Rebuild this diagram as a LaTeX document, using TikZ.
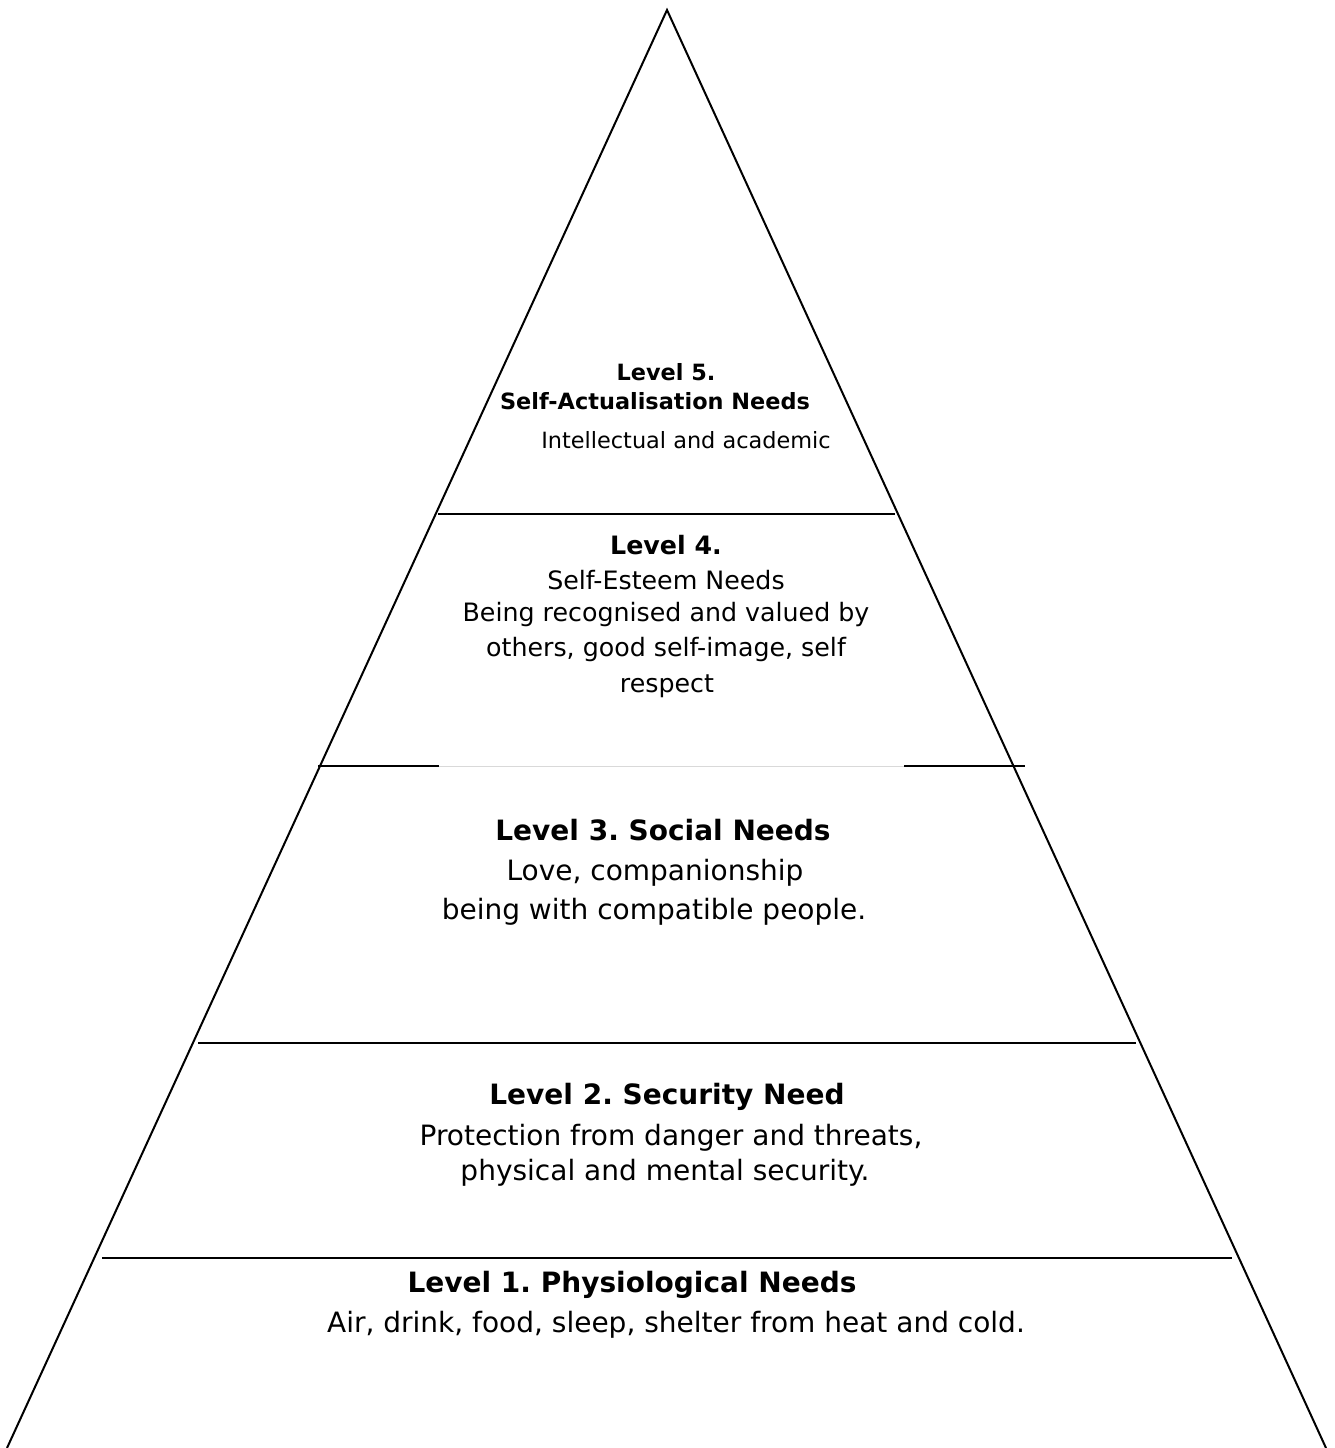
\documentclass[tikz,border=0pt]{standalone}
\usepackage{fontspec}
\setmainfont{DejaVu Sans}
\frenchspacing
\begin{document}
\begin{tikzpicture}[x=1pt,y=-1pt,
  edge/.style={line width=2pt,line join=miter},
  thinrule/.style={line width=1.2pt},
  midrule/.style={line width=2.4pt},
  faintrule/.style={line width=1pt,draw=black!15},
  lbl/.style={inner sep=0pt,anchor=center},
  fA/.style={font=\fontsize{22.4}{26}\selectfont},
  fB/.style={font=\fontsize{25.3}{30}\selectfont},
  fC/.style={font=\fontsize{28}{33}\selectfont}]
\useasboundingbox (0,0) rectangle (1334,1448);
\fill[white] (0,0) rectangle (1334,1448);
% triangle
\coordinate (apex) at (667,10);
\coordinate (bl) at (7,1448);
\coordinate (br) at (1326,1448);
\draw[edge] (bl) -- (apex) -- (br);
% rules
\coordinate (r1a) at (438,514); \coordinate (r1b) at (895,514);
\draw[thinrule] (r1a) -- (r1b);
\coordinate (r2a) at (318,766); \coordinate (r2b) at (439,766);
\coordinate (r2c) at (904,766); \coordinate (r2d) at (1025,766);
\draw[faintrule] (r2b) -- (r2c);
\draw[midrule] (r2a) -- (r2b);
\draw[midrule] (r2c) -- (r2d);
\coordinate (r3a) at (198,1043); \coordinate (r3b) at (1136,1043);
\draw[midrule] (r3a) -- (r3b);
\coordinate (r4a) at (102,1258); \coordinate (r4b) at (1159,1258);
\coordinate (r4c) at (1232,1258);
\draw[thinrule] (r4a) -- (r4b);
\draw[midrule] (r4b) -- (r4c);
% level 5
\node[lbl,fA] (l5a) at (666,372) {\textbf{Level 5.}};
\node[lbl,fA] (l5b) at (655,401) {\textbf{Self-Actualisation Needs}};
\node[lbl,fA] (l5c) at (686,440) {Intellectual and academic};
% level 4
\node[lbl,fB] (l4a) at (666,545) {\textbf{Level 4.}};
\node[lbl,fB] (l4b) at (666,580) {Self-Esteem Needs};
\node[lbl,fB] (l4c) at (666,615) {Being recognised and valued by};
\node[lbl,fB] (l4d) at (666,650) {others, good self-image, self};
\node[lbl,fB] (l4e) at (667,686) {respect};
% level 3
\node[lbl,fC] (l3a) at (663,830) {\textbf{Level 3. Social Needs}};
\node[lbl,fC] (l3b) at (655,873) {Love, companionship};
\node[lbl,fC] (l3c) at (654,912) {being with compatible people.};
% level 2
\node[lbl,fC] (l2a) at (667,1097) {\textbf{Level 2. Security Need}};
\node[lbl,fC] (l2b) at (671,1138) {Protection from danger and threats,};
\node[lbl,fC] (l2c) at (665,1173) {physical and mental security.};
% level 1
\node[lbl,fC] (l1a) at (632,1285) {\textbf{Level 1. Physiological Needs}};
\node[lbl,fC] (l1b) at (676,1325) {Air, drink, food, sleep, shelter from heat and cold.};
\end{tikzpicture}
\end{document}
